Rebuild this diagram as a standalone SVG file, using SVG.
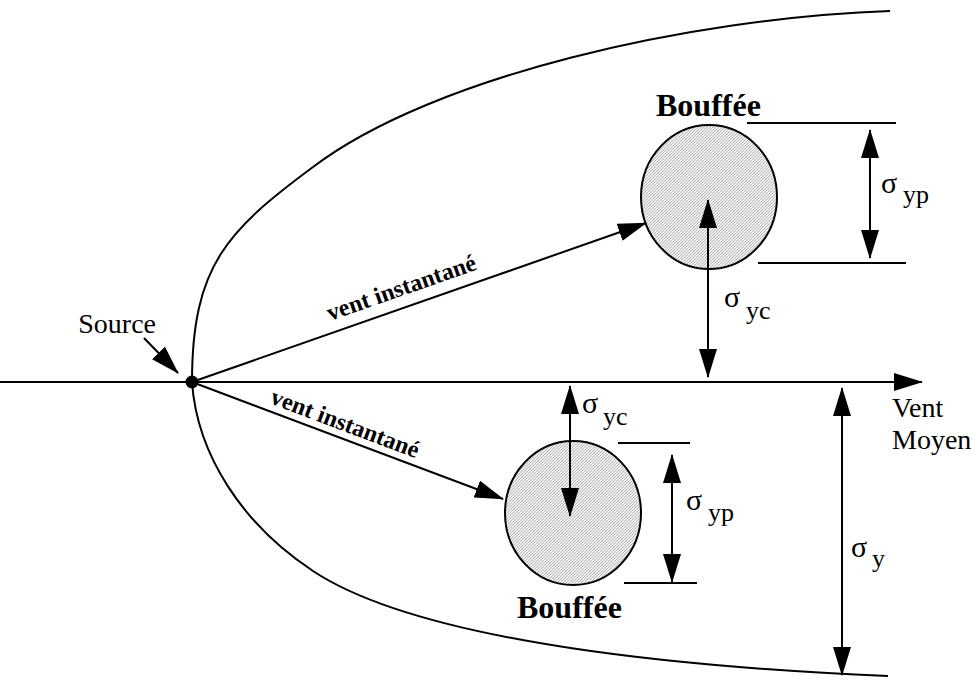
<svg xmlns="http://www.w3.org/2000/svg" width="975" height="684" viewBox="0 0 975 684">
<style>
.ln{stroke:#000;stroke-width:2;fill:none}
.ar{stroke:#000;stroke-width:2;fill:none;marker-end:url(#ah)}
.dar{stroke:#000;stroke-width:2;fill:none;marker-end:url(#ah);marker-start:url(#ah)}
.t{font-family:"Liberation Serif","Times New Roman",serif;fill:#000}
.b{font-weight:bold}
.puff{fill:url(#hatch);stroke:#000;stroke-width:2}
</style>
<defs>
<pattern id="hatch" width="3" height="3" patternUnits="userSpaceOnUse">
<rect width="3" height="3" fill="#f0f0f0"/>
<path d="M-1,1 L1,-1 M0,3 L3,0 M2,4 L4,2" stroke="#9c9c9c" stroke-width="0.7"/>
</pattern>
<marker id="ah" viewBox="0 0 29 18" refX="28" refY="9" markerWidth="29" markerHeight="18" markerUnits="userSpaceOnUse" orient="auto-start-reverse">
<path d="M0,0 L29,9 L0,18 Z" fill="#000"/>
</marker>
</defs>
<rect width="975" height="684" fill="#fff"/>

<g id="envelope">
<path class="ln" d="M192,382 C192,265 228,230 313,167 C433,76 690,18 890,11"/>
<path class="ln" d="M192,382 C197,455 243,525 313,571 C425,645 700,668 888,676"/>
</g>

<g id="puff-upper">
<ellipse class="puff" cx="709" cy="197" rx="68" ry="72"/>
<text class="t b" x="656" y="116" font-size="32">Bouffée</text>
</g>

<g id="puff-lower">
<ellipse class="puff" cx="573" cy="513" rx="68" ry="72"/>
<text class="t b" x="517" y="618" font-size="32">Bouffée</text>
</g>

<g id="source">
<circle cx="192" cy="382" r="6.5" fill="#000"/>
<text class="t" x="156" y="333" font-size="28" text-anchor="end">Source</text>
</g>

<g id="connectors">
<line class="ar" x1="0" y1="382" x2="922" y2="382"/>
<line class="ar" x1="144" y1="338" x2="178" y2="373"/>
<line class="ar" x1="192" y1="382" x2="646" y2="223"/>
<line class="ar" x1="192" y1="382" x2="503" y2="499"/>
<line class="dar" x1="708" y1="200" x2="708" y2="377"/>
<line class="dar" x1="870" y1="130" x2="870" y2="258"/>
<line class="ln" x1="747" y1="123" x2="896" y2="123"/>
<line class="ln" x1="758" y1="263" x2="906" y2="263"/>
<line class="dar" x1="570" y1="386" x2="570" y2="516"/>
<line class="dar" x1="672" y1="455" x2="672" y2="582"/>
<line class="ln" x1="618" y1="443" x2="690" y2="443"/>
<line class="ln" x1="624" y1="583" x2="697" y2="583"/>
<line class="dar" x1="842" y1="388" x2="842" y2="675"/>
</g>

<g id="labels">
<text class="t b" font-size="24" transform="translate(330,321) rotate(-19.3)">vent instantané</text>
<text class="t b" font-size="24" transform="translate(269,403) rotate(20.6)">vent instantané</text>
<text class="t" x="881" y="193" font-size="30">σ<tspan x="903" y="203" font-size="26">yp</tspan></text>
<text class="t" x="724" y="307" font-size="30">σ<tspan x="746" y="319" font-size="26">yc</tspan></text>
<text class="t" x="582" y="413" font-size="30">σ<tspan x="603" y="425" font-size="26">yc</tspan></text>
<text class="t" x="686" y="510" font-size="30">σ<tspan x="708" y="521" font-size="26">yp</tspan></text>
<text class="t" x="851" y="557" font-size="30">σ<tspan x="872" y="567" font-size="26">y</tspan></text>
<text class="t" x="892" y="417" font-size="28">Vent</text>
<text class="t" x="892" y="449" font-size="28">Moyen</text>
</g>
</svg>
